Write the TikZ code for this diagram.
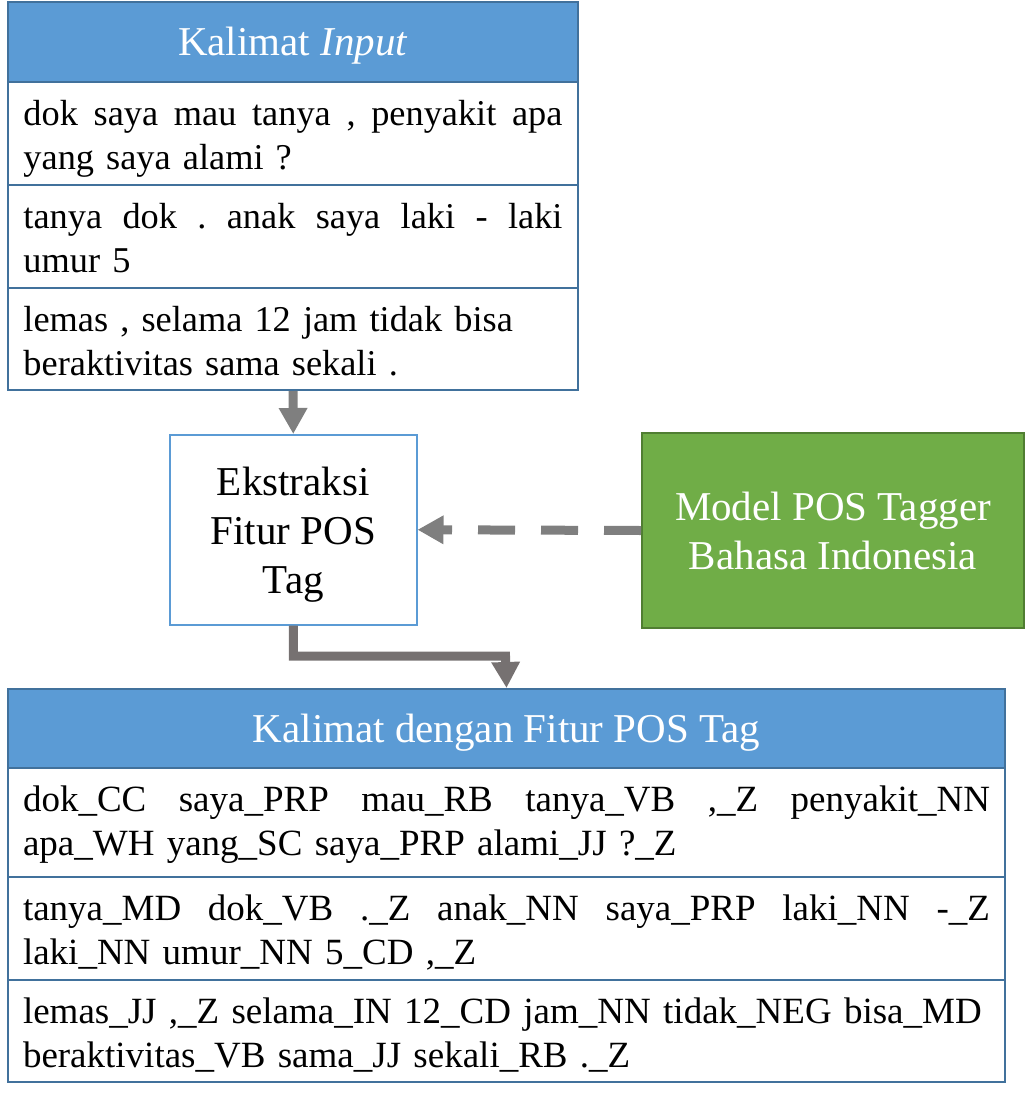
\documentclass[tikz,border=0pt]{standalone}
\usepackage{fontspec}
\setmainfont{Liberation Serif}
\usetikzlibrary{arrows.meta}
\definecolor{hdrblue}{HTML}{5B9BD5}
\definecolor{bordblue}{HTML}{41719C}
\definecolor{grn}{HTML}{70AD47}
\definecolor{grnbord}{HTML}{507E32}
\definecolor{arrgray}{HTML}{7F7F7F}
\definecolor{elbgray}{HTML}{767171}
\frenchspacing
\newcommand\jl[2]{\hbox to #1{\spaceskip=0pt plus 1fil\xspaceskip=0pt plus 1fil\relax #2}}
\newcommand\rs[1]{\rule{0pt}{#1}}
\newcommand\dstr{\rule[-7pt]{0pt}{0pt}}
\newcommand\bdstr{\rule[-8pt]{0pt}{0pt}}
\begin{document}
\begin{tikzpicture}[x=0.75pt,y=-0.75pt,
  tbl/.style={draw=bordblue, line width=1.5pt, anchor=north west, inner ysep=0pt},
  hdr/.style={tbl, fill=hdrblue, text=white, font=\fontsize{30.75pt}{36pt}\selectfont},
  toprow/.style={tbl, minimum width=427.5pt, text width=404.25pt, inner xsep=11.625pt, align=left, font=\fontsize{27.25pt}{33.25pt}\selectfont},
  botrow/.style={tbl, minimum width=747.75pt, text width=725.25pt, inner xsep=11.25pt, align=left, font=\fontsize{27.75pt}{33.25pt}\selectfont},
  procbox/.style={draw=hdrblue, line width=1.125pt, anchor=north west, align=center, inner ysep=0pt, font=\fontsize{30.75pt}{37pt}\selectfont},
  modelbox/.style={draw=grnbord, fill=grn, line width=1.5pt, text=white, anchor=north west, align=center, inner ysep=0pt, font=\fontsize{30.75pt}{37pt}\selectfont},
  arr/.style={line width=6.75pt, draw=arrgray, -{Triangle[length=19.5pt,width=20.25pt]}},
  dasharr/.style={arr, dash pattern=on 27.75pt off 19.5pt},
  elbarr/.style={arr, draw=elbgray, line join=miter}
]
\useasboundingbox (0,0) rectangle (1028,1099);

% top table
\node[hdr, minimum width=427.5pt, minimum height=60pt] (h1) at (7,1) {\rs{28pt}Kalimat \textit{Input}\dstr};
\node[toprow, minimum height=77.25pt] (r11) at (7,81) {\rs{28.2pt}\jl{404.25pt}{dok saya mau tanya , penyakit apa}\\yang saya alami ?\dstr};
\node[toprow, minimum height=77.25pt] (r12) at (7,184) {\rs{28.2pt}\jl{404.25pt}{tanya dok . anak saya laki - laki}\\umur 5\dstr};
\node[toprow, minimum height=76.5pt] (r13) at (7,287) {\rs{28.95pt}lemas , selama 12 jam tidak bisa\\beraktivitas sama sekali .\dstr};

% process box
\node[procbox, minimum width=185.25pt, minimum height=142.5pt] (ek) at (169,434) {\rs{30pt}Ekstraksi\\Fitur POS\\Tag\bdstr};

% model box
\node[modelbox, minimum width=286.5pt, minimum height=146.25pt] (gm) at (641,432) {\rs{29.5pt}Model POS Tagger\\Bahasa Indonesia\bdstr};

% bottom table
\node[hdr, minimum width=747.75pt, minimum height=59.25pt] (h2) at (7,688) {\rs{28pt}Kalimat dengan Fitur POS Tag\dstr};
\node[botrow, minimum height=81.75pt] (r21) at (7,767) {\rs{23.7pt}\jl{725.25pt}{dok\_CC saya\_PRP mau\_RB tanya\_VB ,\_Z penyakit\_NN}\\apa\_WH yang\_SC saya\_PRP alami\_JJ ?\_Z\dstr};
\node[botrow, minimum height=77.25pt] (r22) at (7,876) {\rs{28.2pt}\jl{725.25pt}{tanya\_MD dok\_VB .\_Z anak\_NN saya\_PRP laki\_NN -\_Z}\\laki\_NN umur\_NN 5\_CD ,\_Z\dstr};
\node[botrow, minimum height=76.5pt] (r23) at (7,979) {\rs{28.95pt}lemas\_JJ ,\_Z selama\_IN 12\_CD jam\_NN tidak\_NEG bisa\_MD\\beraktivitas\_VB sama\_JJ sekali\_RB .\_Z\dstr};

% connectors
\coordinate (bend) at (505.5,656);
\draw[arr] (r13.south) -- (ek.north);
\draw[dasharr] (gm.west) -- (ek.east);
\draw[elbarr] (ek.south) |- (bend) -- (h2.north);
\end{tikzpicture}
\end{document}
